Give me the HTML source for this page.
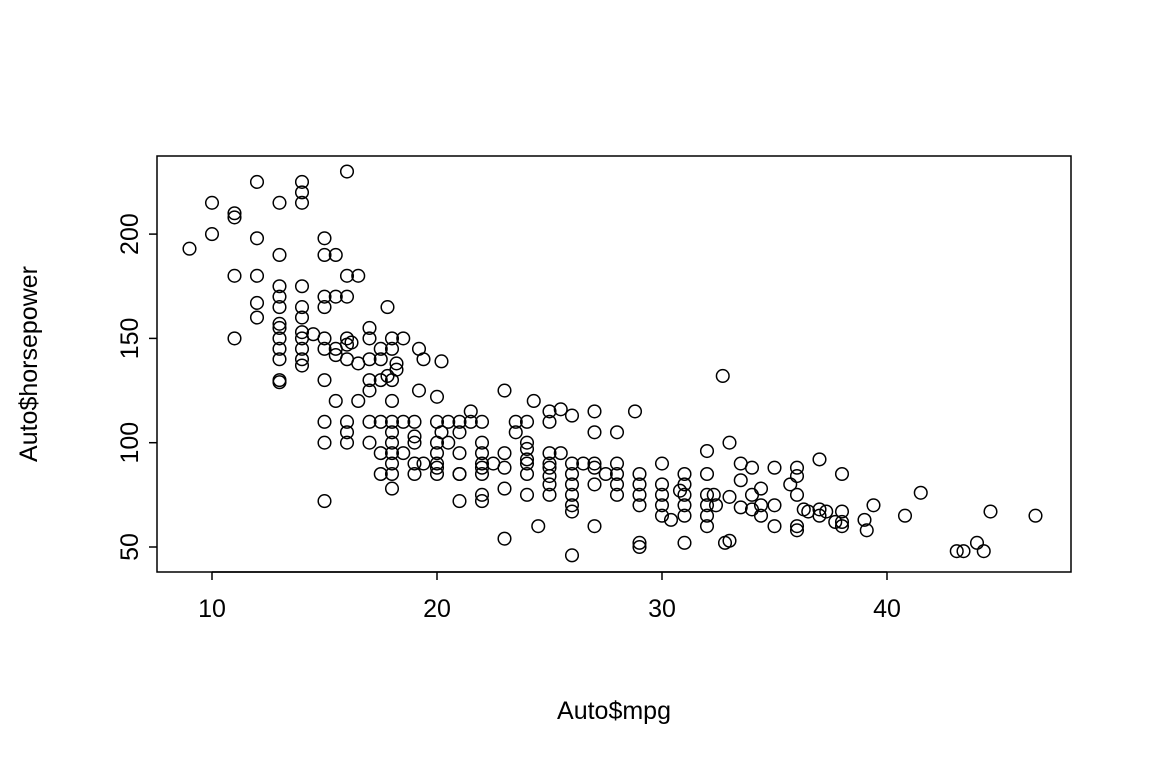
<!DOCTYPE html>
<html><head><meta charset="utf-8"><style>
html,body{margin:0;padding:0;background:#fff;}
svg{display:block;font-family:"Liberation Sans",Arial,sans-serif;}
</style></head><body>
<svg id="chart" width="1152" height="768" viewBox="0 0 1152 768">
<rect x="157" y="156" width="914" height="416" fill="none" stroke="#000" stroke-width="1.5"/>
<g id="pts"></g>
<g id="axes"></g>
<text x="614" y="719" font-size="25" text-anchor="middle">Auto$mpg</text>
<text transform="translate(37,364) rotate(-90)" font-size="25" text-anchor="middle">Auto$horsepower</text>
</svg>
<script>
const xTicks=[10,20,30,40];
const yTicks=[50,100,150,200];
const mpg=[9,10,10,11,11,11,11,12,12,12,12,12,13,13,13,13,13,13,13,13,13,13,13,13,14,14,14,14,14,14,14,14,14,14,14,14.5,15,15,15,15,15,15,15,15,15,15,15.5,15.5,15.5,15.5,15.5,16,16,16,16,16,16,16,16,16,16.2,16.5,16.5,16.5,17,17,17,17,17,17,17,17.5,17.5,17.5,17.5,17.5,17.5,17.8,17.8,18,18,18,18,18,18,18,18,18,18,18,18.2,18.2,18.5,18.5,18.5,19,19,19,19,19,19.2,19.2,19.4,19.4,20.2,20,20,20,20,20,20,20,20.2,20.5,20.5,21,21,21,21,21,21,21.5,21.5,22,22,22,22,22,22,22,22,22.5,23,23,23,23,23,23.5,23.5,24,24,24,24,24,24,24,24.3,24.5,25,25,25,25,25,25,25,25,25.5,25.5,26,26,26,26,26,26,26,26,26.5,27,27,27,27,27,27,27.5,28,28,28,28,28,28.8,29,29,29,29,29,29,30,30,30,30,30,30.4,30.8,31,31,31,31,31,31,32,32,32,32,32,32,32.3,32.4,32.7,32.8,33,33,33,33.5,33.5,33.5,34,34,34,34.4,34.4,34.4,35,35,35,35.7,36,36,36,36,36,36.3,36.5,37,37,37,37.3,37.7,38,38,38,38,39,39.1,39.4,40.8,41.5,43.1,43.4,44,44.3,44.6,46.6];
const hp=[193,215,200,210,208,180,150,225,198,180,167,160,215,190,175,170,165,157,155,150,145,140,130,129,225,220,215,175,165,160,153,150,145,140,137,152,198,190,170,165,150,145,130,110,100,72,120,190,170,145,142,230,180,170,150,147,140,110,105,100,148,180,138,120,155,150,140,130,125,110,100,110,95,85,145,140,130,165,132,150,145,130,120,110,105,100,95,90,85,78,138,135,150,110,95,110,103,100,90,85,145,125,140,90,139,122,110,100,95,90,88,85,105,100,110,85,72,110,105,95,85,115,110,110,100,95,90,88,85,75,72,90,125,95,88,78,54,110,105,100,97,92,90,85,75,110,120,60,115,110,95,90,88,84,80,75,116,95,113,90,85,80,75,70,67,46,90,115,105,90,88,80,60,85,105,90,85,80,75,115,85,80,75,70,50,52,90,80,75,70,65,63,77,85,80,75,70,65,52,96,85,75,70,65,60,75,70,132,52,53,100,74,90,82,69,88,75,68,78,70,65,88,70,60,80,88,84,75,60,58,68,67,92,68,65,67,62,85,67,62,60,63,58,70,65,76,48,48,52,48,67,65];
const X=v=>212+(v-10)*22.5;
const Y=v=>547-(v-50)*2.086;
const NS="http://www.w3.org/2000/svg";
const pts=document.getElementById('pts');
for(let i=0;i<mpg.length;i++){
  const c=document.createElementNS(NS,'circle');
  
  
  c.setAttribute('cx',X(mpg[i]));c.setAttribute('cy',Y(hp[i]));c.setAttribute('r',6.3);
  c.setAttribute('fill','none');c.setAttribute('stroke','#000');c.setAttribute('stroke-width','1.5');
  pts.appendChild(c);
}
const ax=document.getElementById('axes');
function mk(tag,attrs){const e=document.createElementNS(NS,tag);for(const k in attrs)e.setAttribute(k,attrs[k]);ax.appendChild(e);return e;}
let l=mk('line',{x1:X(xTicks[0]),x2:X(xTicks[xTicks.length-1]),y1:572,y2:572,stroke:'#000','stroke-width':1.5});


xTicks.forEach(t=>{
  const tk=mk('line',{x1:X(t),x2:X(t),y1:572,y2:580,stroke:'#000','stroke-width':1.5});
  
  
  const tx=mk('text',{x:X(t),y:617,'font-size':25,'text-anchor':'middle'});
  
  
  tx.textContent=t;
});
yTicks.forEach(t=>{
  const tk=mk('line',{x1:149,x2:157,y1:Y(t),y2:Y(t),stroke:'#000','stroke-width':1.5});
  
  
  const tx=mk('text',{transform:`translate(138,${Y(t)}) rotate(-90)`,'font-size':25,'text-anchor':'middle'});
  
  
  tx.textContent=t;
});
</script>
</body></html>
